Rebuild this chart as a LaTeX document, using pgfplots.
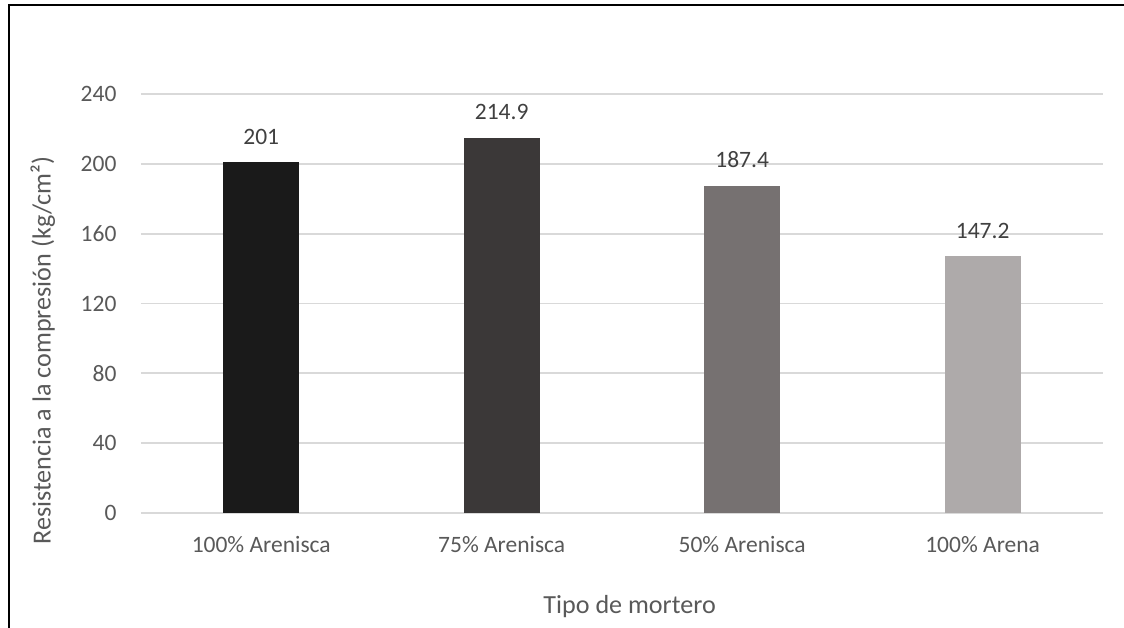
\documentclass[border=0pt]{standalone}
\usepackage{pgfplots}
\pgfplotsset{compat=1.18}
\usepackage{fontspec}
\setmainfont{Carlito}

\definecolor{txtgray}{HTML}{595959}
\definecolor{lblgray}{HTML}{404040}
\definecolor{gridgray}{HTML}{D9D9D9}
\definecolor{barA}{HTML}{1A1A1A}
\definecolor{barB}{HTML}{3B3838}
\definecolor{barC}{HTML}{767171}
\definecolor{barD}{HTML}{AEAAAA}

\begin{document}
\begin{tikzpicture}
% page area and chart frame
\useasboundingbox (0,0) rectangle (430.5pt,240.5pt);
\fill[white] (0,0) rectangle (430.5pt,240.5pt);
\draw[line width=0.8pt,black] (3.3pt,-1pt) -- (3.3pt,238.6pt) -- (432pt,238.6pt);

\begin{axis}[
  at={(54pt,44pt)}, anchor=south west,
  scale only axis,
  width=368.4pt, height=160.5pt,
  xmin=-0.5, xmax=3.5,
  ymin=0, ymax=240,
  xtick={0,1,2,3},
  xticklabels={100\% Arenisca,75\% Arenisca,50\% Arenisca,100\% Arena},
  ytick={0,40,...,240},
  ymajorgrids,
  grid style={gridgray, line width=0.7pt},
  axis line style={draw=none},
  major tick length=0pt,
  tick label style={font=\fontsize{9}{11}\selectfont, text=txtgray},
  /pgf/number format/assume math mode=true,
  yticklabel style={inner sep=0pt, xshift=-9.2pt},
  xticklabel style={anchor=base, inner sep=0pt, yshift=-15pt},
  xlabel={Tipo de mortero},
  ylabel={Resistencia a la compresión (kg/cm²)},
  label style={font=\fontsize{10}{12}\selectfont, text=txtgray},
  xlabel style={at={(axis description cs:0.508,-0.222)}, anchor=center},
  ylabel style={at={(axis description cs:-0.102,0.388)}, anchor=center},
  ybar=0pt, bar width=29.2pt, bar shift=0pt,
  nodes near coords,
  nodes near coords style={font=\fontsize{9}{11}\selectfont, text=lblgray, inner sep=0pt, anchor=base, yshift=6.9pt,
    /pgf/number format/.cd, fixed, precision=1, assume math mode=true},
  clip=false,
]
\addplot[draw=none, fill=barA] coordinates {(0,201)};
\addplot[draw=none, fill=barB] coordinates {(1,214.9)};
\addplot[draw=none, fill=barC] coordinates {(2,187.4)};
\addplot[draw=none, fill=barD] coordinates {(3,147.2)};
\end{axis}
\end{tikzpicture}
\end{document}
